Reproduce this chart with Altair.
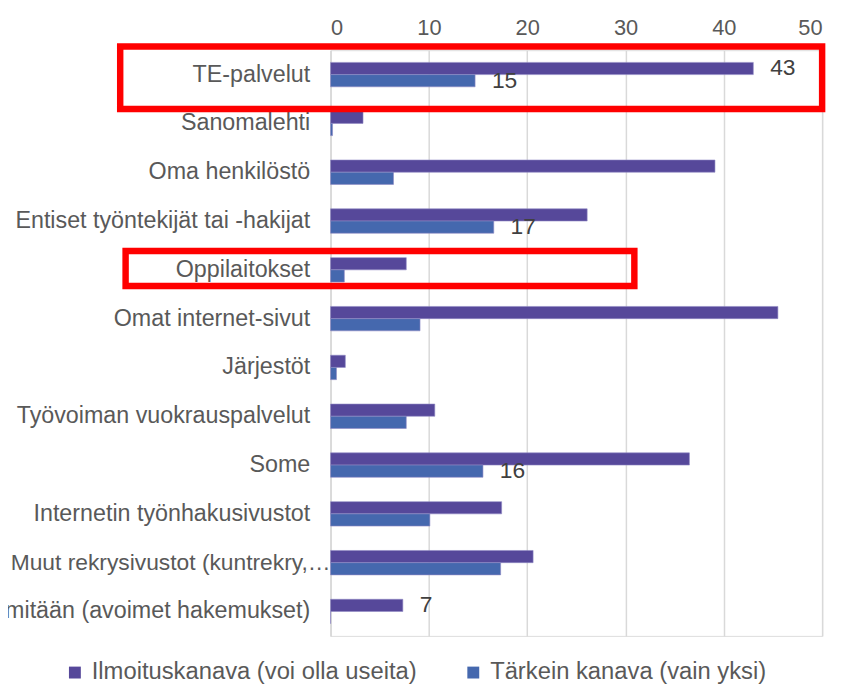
import altair as alt
import pandas as pd

categories = [
    "TE-palvelut",
    "Sanomalehti",
    "Oma henkilöstö",
    "Entiset työntekijät tai -hakijat",
    "Oppilaitokset",
    "Omat internet-sivut",
    "Järjestöt",
    "Työvoiman vuokrauspalvelut",
    "Some",
    "Internetin työnhakusivustot",
    "Muut rekrysivustot (kuntrekry,…",
    "Ei mitään (avoimet hakemukset)",
]
# the truncated category label that Excel drew past the usual label edge
long_label_category = "Muut rekrysivustot (kuntrekry,…"
series = ["Ilmoituskanava (voi olla useita)", "Tärkein kanava (vain yksi)"]
ilmoitus = [43.0, 3.3, 39.1, 26.1, 7.7, 45.5, 1.5, 10.6, 36.5, 17.4, 20.6, 7.35]
tarkein = [14.7, 0.2, 6.4, 16.6, 1.4, 9.1, 0.6, 7.7, 15.5, 10.1, 17.3, 0.0]
ilmoitus_labels = ["43", "", "", "", "", "", "", "", "", "", "", "7"]
tarkein_labels = ["15", "", "", "17", "", "", "", "", "16", "", "", ""]
colors = ["#56489A", "#4568AE"]

# annotation boxes (data units on x, category band on y)
box_categories = ["TE-palvelut", "Oppilaitokset"]
box_x_start = [-21.4, -20.85]
box_x_end = [50.0, 30.9]

rows = []
for c, a, b, la, lb in zip(categories, ilmoitus, tarkein, ilmoitus_labels, tarkein_labels):
    rows.append({"cat": c, "series": series[0], "value": a, "label": la})
    rows.append({"cat": c, "series": series[1], "value": b, "label": lb})
df = pd.DataFrame(rows)

FONT = "Liberation Sans"
GREY = "#595959"

y_scale = alt.Scale(paddingInner=0.5, paddingOuter=0.25)
y_enc = alt.Y(
    "cat:N",
    sort=categories,
    scale=y_scale,
    axis=alt.Axis(
        title=None,
        ticks=False,
        domain=True,
        domainColor="#D9D9D9",
        domainWidth=1.5,
        labelFontSize=23.5,
        labelColor=GREY,
        labelPadding=21,
        labelLimit=0,
        labelFont=FONT,
        labelExpr=f"datum.value == '{long_label_category}' ? '' : datum.value",
    ),
)
x_enc = alt.X(
    "value:Q",
    scale=alt.Scale(domain=[0, 50], nice=False),
    axis=alt.Axis(
        orient="top",
        title=None,
        values=[0, 10, 20, 30, 40, 50],
        grid=True,
        gridColor="#D9D9D9",
        gridWidth=1.5,
        ticks=False,
        domain=False,
        labelFontSize=22,
        labelColor=GREY,
        labelPadding=11,
        labelFont=FONT,
    ),
)
yoff = alt.YOffset("series:N", sort=series, scale=alt.Scale(paddingInner=0, paddingOuter=0))

bars = alt.Chart(df).mark_bar(stroke="#8F88C4", strokeWidth=0.6).encode(
    x=x_enc,
    y=y_enc,
    yOffset=yoff,
    color=alt.Color(
        "series:N",
        sort=series,
        scale=alt.Scale(domain=series, range=colors),
        legend=alt.Legend(
            title=None,
            orient="none",
            direction="horizontal",
            legendX=-270,
            legendY=616,
            symbolType="square",
            symbolSize=144,
            symbolStrokeWidth=0,
            labelFontSize=24,
            labelColor=GREY,
            labelFont=FONT,
            labelOffset=5,
            columnPadding=44,
            labelLimit=0,
        ),
    ),
)

labels = alt.Chart(df).transform_filter(alt.datum.label != "").mark_text(
    align="left", baseline="middle", dx=17, fontSize=23, color="#404040", font=FONT
).encode(
    x="value:Q",
    y=alt.Y("cat:N", sort=categories),
    yOffset=alt.YOffset("series:N", sort=series),
    text="label:N",
)

long_label = alt.Chart(pd.DataFrame({"cat": [long_label_category]})).mark_text(
    align="right", baseline="middle", fontSize=23, color=GREY, font=FONT, clip=False
).encode(x=alt.datum(0), y=alt.Y("cat:N", sort=categories), text="cat:N")

box_df = pd.DataFrame({"cat": box_categories, "x1": box_x_start, "x2": box_x_end})
box_styles = [(63, 3.2), (35.3, -1.4)]
boxes = []
for i, (h, off) in enumerate(box_styles):
    boxes.append(
        alt.Chart(box_df.iloc[[i]]).mark_bar(
            filled=False, stroke="#FF0000", strokeWidth=6.5, height=h, yOffset=off, clip=False
        ).encode(x="x1:Q", x2="x2:Q", y=alt.Y("cat:N", sort=categories))
    )

chart = alt.layer(bars, labels, long_label, *boxes).properties(
    width=496,
    height=591,
    autosize=alt.AutoSizeParams(type="none"),
    padding={"left": 325.5, "top": 39.5, "right": 14, "bottom": 49.5},
).configure_view(stroke=None).configure(font=FONT)

chart.save("out.html", embed_options={"renderer": "svg", "actions": False})
